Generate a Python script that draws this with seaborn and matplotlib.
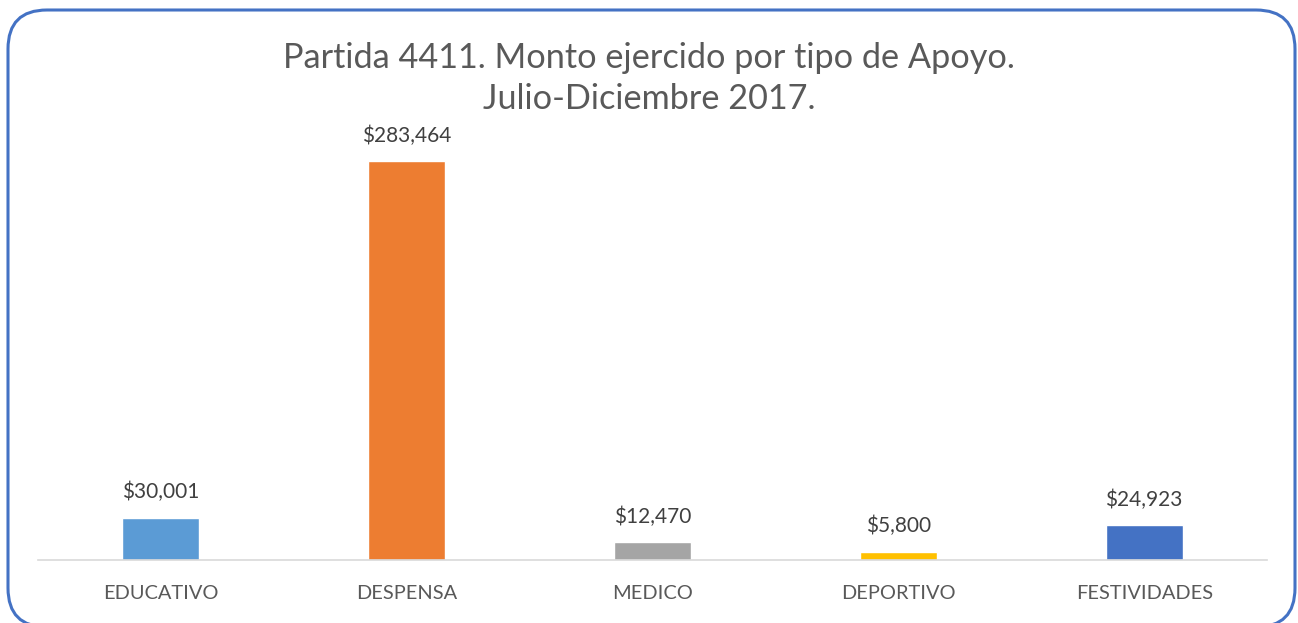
import numpy as np
import pandas as pd
import matplotlib.pyplot as plt
import seaborn as sns
from matplotlib.patches import FancyBboxPatch

categorias = ["EDUCATIVO", "DESPENSA", "MEDICO", "DEPORTIVO", "FESTIVIDADES"]
montos = [30001, 283464, 12470, 5800, 24923]
colores = ["#5B9BD5", "#ED7D31", "#A5A5A5", "#FFC000", "#4472C4"]

titulo = "Partida 4411. Monto ejercido por tipo de Apoyo.\nJulio-Diciembre 2017."

sns.set_theme(style="white")
plt.rcParams["font.family"] = ["Lato", "DejaVu Sans"]

df = pd.DataFrame({"categoria": categorias, "monto": montos})

fig = plt.figure(figsize=(12.98, 6.23), dpi=100)
ax = fig.add_axes([0.0293, 0.1011, 0.9469, 0.7063])

sns.barplot(data=df, x="categoria", y="monto", hue="categoria",
            palette=colores, width=0.313, legend=False, ax=ax, saturation=1)

ax.set_ylim(0, 312600)
ax.set_xlim(-0.5, len(categorias) - 0.5)
ax.set_xlabel("")
ax.set_ylabel("")
ax.set_yticks([])
for s in ["top", "right", "left"]:
    ax.spines[s].set_visible(False)
ax.spines["bottom"].set_color("#D9D9D9")
ax.spines["bottom"].set_linewidth(1.2)
ax.tick_params(axis="x", length=0, pad=18, labelsize=14.4, colors="#595959")

for i, v in enumerate(montos):
    ax.annotate(f"${v:,}", (i, v), xytext=(0, 11), textcoords="offset points",
                ha="center", va="bottom", fontsize=15, color="#404040")

fig.text(0.5, 0.874, titulo, ha="center", va="center", fontsize=24.7,
         color="#595959", linespacing=1.38)

# marco redondeado
borde = FancyBboxPatch((8 / 1298, -4 / 623), 1287 / 1298, 617 / 623,
                       boxstyle="round,pad=0,rounding_size=0.03",
                       transform=fig.transFigure, fill=False,
                       edgecolor="#4472C4", linewidth=2.2,
                       mutation_aspect=1298 / 623)
fig.patches.append(borde)

fig.savefig("out.png", dpi=100)
